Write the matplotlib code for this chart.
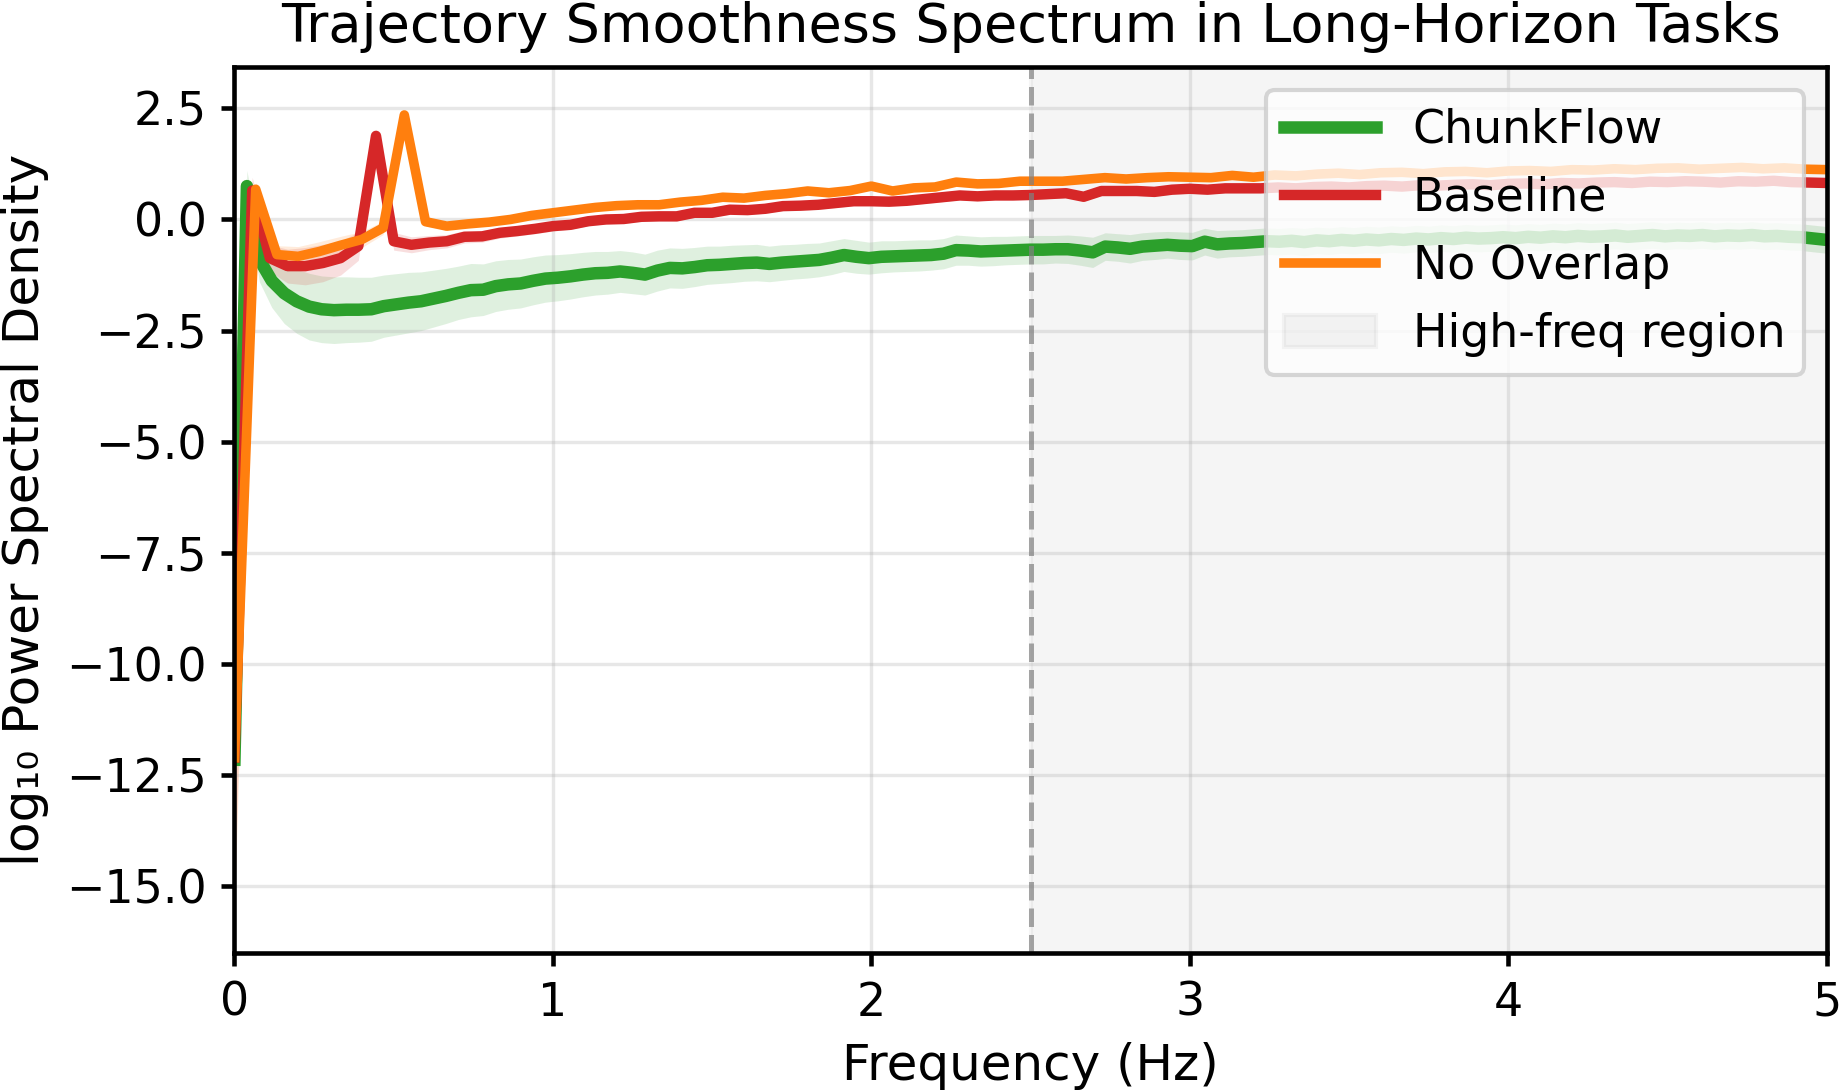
import numpy as np
import matplotlib
matplotlib.use("Agg")
import matplotlib.pyplot as plt

# frequency grids (Hz), each method has its own resolution
freq_chunkflow = np.arange(129) * 5.0 / 128
freq_baseline = np.arange(91) * 5.0 / 90
freq_nooverlap = np.arange(76) * 5.0 / 75

# log10 PSD
psd_chunkflow = [
    -12.15, 0.75, -0.90, -1.38, -1.66, -1.84, -1.96, -2.02, -2.04, -2.03,
    -2.03, -2.02, -1.95, -1.91, -1.87, -1.84, -1.78, -1.72, -1.65, -1.59,
    -1.58, -1.50, -1.46, -1.44, -1.38, -1.33, -1.31, -1.28, -1.24, -1.21,
    -1.20, -1.17, -1.20, -1.24, -1.15, -1.09, -1.10, -1.07, -1.03, -1.02,
    -1.00, -0.98, -0.97, -1.00, -0.97, -0.95, -0.93, -0.91, -0.86, -0.80,
    -0.84, -0.87, -0.84, -0.83, -0.82, -0.81, -0.80, -0.77, -0.69, -0.70,
    -0.72, -0.71, -0.70, -0.69, -0.68, -0.68, -0.67, -0.67, -0.70, -0.74,
    -0.61, -0.63, -0.66, -0.61, -0.59, -0.57, -0.59, -0.60, -0.50, -0.56,
    -0.54, -0.53, -0.51, -0.49, -0.50, -0.48, -0.51, -0.47, -0.49, -0.46,
    -0.48, -0.45, -0.47, -0.44, -0.46, -0.43, -0.45, -0.42, -0.44, -0.41,
    -0.43, -0.42, -0.40, -0.42, -0.39, -0.41, -0.38, -0.40, -0.37, -0.39,
    -0.38, -0.36, -0.39, -0.37, -0.35, -0.38, -0.36, -0.37, -0.35, -0.38,
    -0.36, -0.37, -0.35, -0.38, -0.37, -0.39, -0.40, -0.43, -0.46,
]
std_chunkflow = [
    0.30, 0.35, 0.50, 0.60, 0.68, 0.72, 0.75, 0.75, 0.75, 0.74,
    0.73, 0.72, 0.70, 0.69, 0.68, 0.66, 0.64, 0.62, 0.60, 0.60,
    0.58, 0.57, 0.56, 0.55, 0.54, 0.53, 0.52, 0.51, 0.50, 0.49,
    0.48, 0.47, 0.47, 0.46, 0.46, 0.45, 0.45, 0.44, 0.43, 0.42,
    0.42, 0.41, 0.41, 0.40, 0.40, 0.39, 0.39, 0.38, 0.38, 0.37,
    0.37, 0.36, 0.36, 0.35, 0.35, 0.35, 0.34, 0.34, 0.34, 0.33,
    0.33, 0.33, 0.32, 0.32, 0.32, 0.32, 0.31, 0.32, 0.33, 0.34,
    0.31, 0.31, 0.32, 0.31, 0.31, 0.30, 0.31, 0.31, 0.30, 0.31,
    0.30, 0.30, 0.30, 0.30, 0.30, 0.30, 0.31, 0.30, 0.30, 0.30,
    0.30, 0.30, 0.30, 0.30, 0.30, 0.30, 0.30, 0.30, 0.30, 0.30,
    0.30, 0.30, 0.30, 0.30, 0.30, 0.30, 0.30, 0.30, 0.30, 0.30,
    0.30, 0.30, 0.30, 0.30, 0.30, 0.30, 0.30, 0.30, 0.30, 0.30,
    0.30, 0.30, 0.30, 0.30, 0.30, 0.30, 0.30, 0.30, 0.30,
]

psd_baseline = [
    -12.10, 0.65, -0.87, -1.05, -1.05, -0.98, -0.87, -0.60, 1.88, -0.49,
    -0.57, -0.52, -0.49, -0.39, -0.38, -0.30, -0.26, -0.21, -0.15, -0.12,
    -0.04, 0.00, 0.01, 0.06, 0.07, 0.07, 0.15, 0.15, 0.22, 0.21,
    0.24, 0.30, 0.31, 0.33, 0.37, 0.41, 0.41, 0.40, 0.42, 0.46,
    0.50, 0.54, 0.52, 0.54, 0.54, 0.55, 0.57, 0.59, 0.51, 0.64,
    0.64, 0.64, 0.62, 0.67, 0.69, 0.67, 0.70, 0.70, 0.70, 0.72,
    0.70, 0.73, 0.74, 0.72, 0.75, 0.76, 0.74, 0.77, 0.76, 0.78,
    0.79, 0.77, 0.80, 0.81, 0.79, 0.82, 0.81, 0.83, 0.84, 0.82,
    0.85, 0.84, 0.86, 0.85, 0.83, 0.86, 0.85, 0.87, 0.84, 0.83,
    0.82,
]
std_baseline = [
    3.50, 0.30, 0.30, 0.38, 0.42, 0.42, 0.38, 0.32, 0.15, 0.20,
    0.18, 0.16, 0.15, 0.14, 0.13, 0.12, 0.11, 0.11, 0.11, 0.10,
] + [0.10] * 71

psd_nooverlap = [
    -12.10, 0.68, -0.79, -0.83, -0.72, -0.58, -0.45, -0.19, 2.35, -0.05,
    -0.15, -0.10, -0.06, 0.00, 0.09, 0.15, 0.21, 0.27, 0.31, 0.33,
    0.33, 0.39, 0.43, 0.50, 0.48, 0.54, 0.58, 0.64, 0.60, 0.65,
    0.75, 0.64, 0.71, 0.73, 0.84, 0.80, 0.81, 0.86, 0.86, 0.86,
    0.90, 0.94, 0.91, 0.94, 0.96, 0.95, 0.94, 0.99, 0.95, 1.00,
    0.98, 1.02, 1.04, 1.01, 1.05, 1.06, 1.03, 1.07, 1.08, 1.05,
    1.09, 1.10, 1.08, 1.12, 1.11, 1.14, 1.12, 1.15, 1.16, 1.13,
    1.15, 1.17, 1.14, 1.16, 1.13, 1.12,
]
std_nooverlap = [
    3.50, 0.15, 0.20, 0.22, 0.22, 0.20, 0.18, 0.15, 0.12, 0.10,
] + [0.08] * 66

fig = plt.figure(figsize=(1839 / 300, 1092 / 300), dpi=300)
ax = fig.add_axes([0.1275, 0.1276, 0.8658, 0.8113])

series = [
    (freq_chunkflow, psd_chunkflow, std_chunkflow, '#2ca02c', 3.0, 'ChunkFlow'),
    (freq_baseline, psd_baseline, std_baseline, '#d62728', 2.5, 'Baseline'),
    (freq_nooverlap, psd_nooverlap, std_nooverlap, '#ff7f0e', 2.3, 'No Overlap'),
]
for f, m, s, c, lw, lab in series:
    m = np.array(m)
    s = np.array(s)
    ax.plot(f, m, color=c, lw=lw, label=lab)
    ax.fill_between(f, m - s, m + s, color=c, alpha=0.15, lw=0)

# high frequency region
ax.axvline(2.5, color='gray', linestyle='--', alpha=0.7, lw=1.2)
ax.axvspan(2.5, 5, color='gray', alpha=0.08, label='High-freq region')

ax.set_xlim(0, 5)
ax.set_ylim(-16.49, 3.435)
ax.grid(True, alpha=0.3)
for sp in ax.spines.values():
    sp.set_linewidth(1.1)
ax.tick_params(labelsize=11, width=1.1, length=3.2)

ax.set_xlabel('Frequency (Hz)', fontsize=12)
ax.set_ylabel('log₁₀ Power Spectral Density', fontsize=12)
ax.set_title('Trajectory Smoothness Spectrum in Long-Horizon Tasks', fontsize=13)
ax.legend(loc='upper right', fontsize=11)

fig.savefig('out.png', dpi=300)
